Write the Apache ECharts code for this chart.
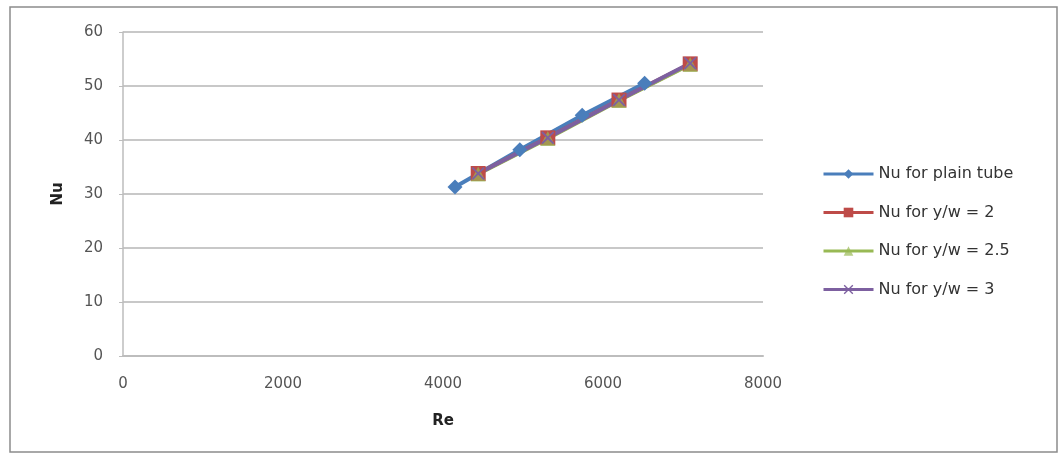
<!DOCTYPE html>
<html>
<head>
<meta charset="utf-8">
<script src="https://cdn.jsdelivr.net/npm/echarts@6/dist/echarts.min.js"></script>
<style>
  html, body { margin: 0; padding: 0; background: #fff; }
  #chart { width: 1061px; height: 453px; }
</style>
</head>
<body>
<div id="chart"></div>
<script>
// Reynolds number vs Nusselt number for the plain tube and twisted-tape ratios
const rePlain = [4150, 4960, 5740, 6520];
const nuPlain = [31.3, 38.2, 44.6, 50.5];

const reTape = [4440, 5310, 6200, 7090];
const nuTape2 = [33.8, 40.4, 47.4, 54.1];
const nuTape25 = [33.7, 40.3, 47.3, 54.0];
const nuTape3 = [33.8, 40.4, 47.4, 54.2];

const seriesNames = ['Nu for plain tube', 'Nu for y/w = 2', 'Nu for y/w = 2.5', 'Nu for y/w = 3'];

const xTicks = [0, 2000, 4000, 6000, 8000];
const yTicks = [0, 10, 20, 30, 40, 50, 60];

const pair = (xs, ys) => xs.map((x, i) => [x, ys[i]]);

const crossPath = 'path://M0,1L1,0L5,4L9,0L10,1L6,5L10,9L9,10L5,6L1,10L0,9L4,5Z';

const chart = echarts.init(document.getElementById('chart'));
chart.setOption({
  animation: false,
  backgroundColor: '#ffffff',
  textStyle: { fontFamily: 'DejaVu Sans, sans-serif' },
  graphic: [{
    type: 'rect',
    shape: { x: 10, y: 7, width: 1047, height: 445 },
    style: { fill: 'none', stroke: '#8c8c8c', lineWidth: 1.5 },
    silent: true
  }],
  grid: { left: 123, right: 298, top: 32, bottom: 97 },
  xAxis: {
    type: 'value',
    min: xTicks[0], max: xTicks[xTicks.length - 1], interval: 2000,
    name: 'Re', nameLocation: 'middle', nameGap: 58,
    nameTextStyle: { fontWeight: 'bold', fontSize: 15, color: '#222' },
    axisLine: { show: true, lineStyle: { color: '#bdbdbd', width: 2 } },
    axisTick: { show: false },
    axisLabel: { color: '#555', fontSize: 15, margin: 21, formatter: v => String(v) },
    splitLine: { show: false }
  },
  yAxis: {
    type: 'value',
    min: yTicks[0], max: yTicks[yTicks.length - 1], interval: 10,
    name: 'Nu', nameLocation: 'middle', nameGap: 57, nameRotate: 90,
    nameTextStyle: { fontWeight: 'bold', fontSize: 15, color: '#222' },
    axisLine: { show: true, lineStyle: { color: '#bdbdbd', width: 1.5 } },
    axisTick: { show: true, length: 4, lineStyle: { color: '#bdbdbd' } },
    axisLabel: { color: '#555', fontSize: 15, margin: 20 },
    splitLine: { show: true, lineStyle: { color: '#c8c8c8', width: 2 } }
  },
  legend: {
    orient: 'vertical',
    left: 817, top: 161,
    itemWidth: 50, itemHeight: 12, itemGap: 22.5,
    lineStyle: { width: 3 },
    textStyle: { fontSize: 16, color: '#333' },
    data: seriesNames
  },
  series: [
    {
      name: seriesNames[0], type: 'line', data: pair(rePlain, nuPlain),
      symbol: 'diamond', symbolSize: 15,
      itemStyle: { color: '#4a7ebb' }, lineStyle: { width: 4, color: '#4a7ebb' }
    },
    {
      name: seriesNames[1], type: 'line', data: pair(reTape, nuTape2),
      symbol: 'rect', symbolSize: 15,
      itemStyle: { color: '#be4b48' }, lineStyle: { width: 4, color: '#be4b48' }
    },
    {
      name: seriesNames[2], type: 'line', data: pair(reTape, nuTape25),
      symbol: 'triangle', symbolSize: 15,
      itemStyle: { color: '#98b954', opacity: 0.7 }, lineStyle: { width: 4, color: '#98b954' }
    },
    {
      name: seriesNames[3], type: 'line', data: pair(reTape, nuTape3),
      symbol: crossPath, symbolSize: 13,
      itemStyle: { color: '#7d60a0' }, lineStyle: { width: 4, color: '#7d60a0' }
    }
  ]
});
</script>
</body>
</html>
